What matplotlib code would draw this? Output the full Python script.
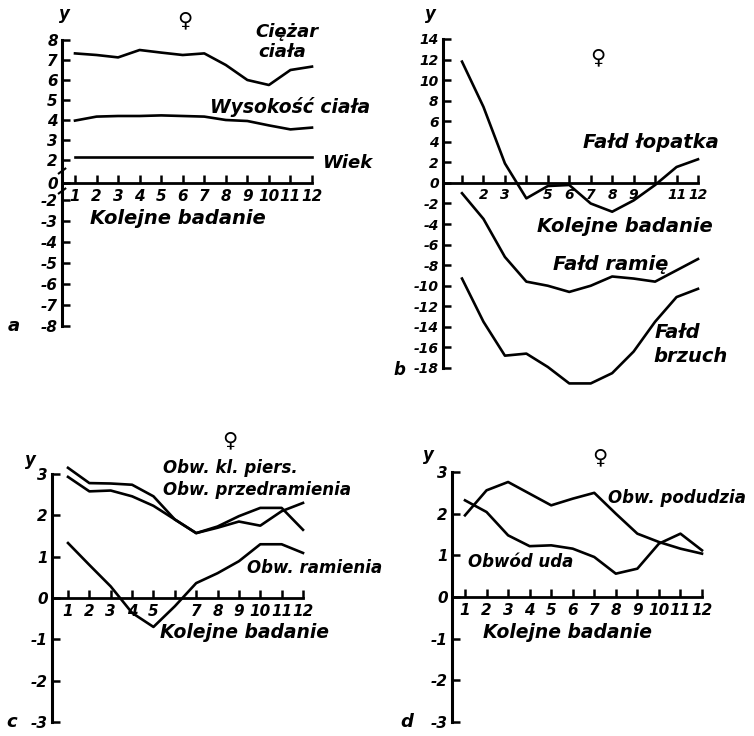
import matplotlib.pyplot as plt

plt.rcParams["font.family"] = ["DejaVu Sans"]
plt.rcParams["font.style"] = "italic"
plt.rcParams["font.weight"] = "bold"

W, H = 754, 736

# -----------------------------
# data
# -----------------------------
badanie = [1, 2, 3, 4, 5, 6, 7, 8, 9, 10, 11, 12]

# a
ciezar = [7.33, 7.25, 7.13, 7.5, 7.37, 7.25, 7.33, 6.75, 6.0, 5.75, 6.5, 6.67]
wysokosc = [3.97, 4.17, 4.2, 4.2, 4.23, 4.2, 4.17, 4.0, 3.95, 3.73, 3.53, 3.62]
wiek = [2.15, 2.15, 2.15, 2.15, 2.15, 2.15, 2.15, 2.15, 2.15, 2.15, 2.15, 2.15]
a_ticks = [8, 7, 6, 5, 4, 3, 2, 0.85, 0, -1.05, -2.1, -3.15, -4.2, -5.25, -6.3]
a_ticklabels = ["8", "7", "6", "5", "4", "3", "2", "0", "-2", "-3", "-4", "-5", "-6", "-7", "-8"]

# b
lopatka = [11.8, 7.4, 1.9, -1.5, -0.3, -0.2, -2.0, -2.8, -1.7, -0.2, 1.55, 2.3]
ramie = [-1.0, -3.5, -7.2, -9.6, -10.0, -10.6, -10.0, -9.1, -9.3, -9.6, -8.5, -7.4]
brzuch = [-9.3, -13.5, -16.8, -16.6, -17.9, -19.5, -19.5, -18.5, -16.4, -13.5, -11.1, -10.3]
b_xlabels = ["", "2", "3", "", "5", "6", "7", "8", "9", "", "11", "12"]

# c
kl_piers = [3.15, 2.78, 2.77, 2.74, 2.46, 1.9, 1.57, 1.73, 1.98, 2.18, 2.18, 1.65]
przedramie = [2.93, 2.58, 2.6, 2.46, 2.23, 1.9, 1.57, 1.7, 1.85, 1.75, 2.1, 2.3]
ramie_obw = [1.33, 0.8, 0.28, -0.36, -0.7, -0.2, 0.36, 0.6, 0.89, 1.3, 1.3, 1.09]
c_xlabels = ["1", "2", "3", "4", "5", "", "7", "8", "9", "10", "11", "12"]

# d
podudzie = [1.96, 2.56, 2.76, 2.48, 2.2, 2.36, 2.5, 2.0, 1.52, 1.32, 1.16, 1.04]
uda = [2.32, 2.04, 1.48, 1.22, 1.24, 1.16, 0.96, 0.56, 0.68, 1.28, 1.52, 1.12]

fig = plt.figure(figsize=(W / 100, H / 100), dpi=100)


def place(x1px, x12px, yA, yApx, yB, yBpx, xlim, ylim):
    # put an axes so that data x=1 / x=12 and yA / yB land on the given pixels
    sx = (x12px - x1px) / 11
    sy = (yBpx - yApx) / (yA - yB)
    left = x1px + (xlim[0] - 1) * sx
    right = x1px + (xlim[1] - 1) * sx
    top = yApx - (ylim[1] - yA) * sy
    bottom = yApx + (yA - ylim[0]) * sy
    ax = fig.add_axes([left / W, 1 - bottom / H, (right - left) / W, (bottom - top) / H])
    ax.set_xlim(xlim)
    ax.set_ylim(ylim)
    ax.patch.set_alpha(0)
    return ax


def style(ax, xaxis_y, ybounds, yticks, yticklabels, xlabels, fs):
    for s in ["top", "right"]:
        ax.spines[s].set_visible(False)
    ax.spines["left"].set_linewidth(2.2)
    ax.spines["left"].set_bounds(*ybounds)
    ax.spines["bottom"].set_position(("data", xaxis_y))
    ax.spines["bottom"].set_linewidth(2.0)
    ax.spines["bottom"].set_bounds(ax.get_xlim()[0], 12)
    ax.set_xticks(badanie)
    ax.set_xticklabels(xlabels)
    ax.set_yticks(yticks)
    ax.set_yticklabels(yticklabels)
    ax.tick_params(axis="x", direction="in", length=6, width=1.8, pad=4, labelsize=fs)
    ax.tick_params(axis="y", direction="in", length=6, width=1.8, pad=3, labelsize=fs)


def label(x, y, s, size=13, ha="left", va="center"):
    fig.text(x / W, 1 - y / H, s, fontsize=size, ha=ha, va=va,
             fontstyle="italic", fontweight="bold")


lw = 1.9
col = "black"

# -----------------------------
# a
# -----------------------------
ax = place(75, 312, 7, 60, 2, 160, (0.4, 12.3), (-6.5, 8.3))
ax.plot(badanie, ciezar, color=col, lw=lw)
ax.plot(badanie, wysokosc, color=col, lw=lw)
ax.plot(badanie, wiek, color=col, lw=lw)
style(ax, 0.85, (-6.3, 8), a_ticks, a_ticklabels, [str(i) for i in badanie], 11)
# axis break marks
for yb in [1.45, 0.45]:
    ax.plot([0.25, 0.55], [yb - 0.12, yb + 0.12], color=col, lw=1.5, clip_on=False)

label(64, 14, "y", 12, ha="center")
label(185, 20, "\u2640", 15, ha="center")
label(255, 32, "Ciężar")
label(258, 52, "ciała")
label(210, 107, "Wysokość ciała", 13.5)
label(322, 163, "Wiek")
label(90, 218, "Kolejne badanie", 14)
label(8, 326, "a", 13)

# -----------------------------
# b
# -----------------------------
ax = place(462, 698, 14, 39, -18, 368, (0.11, 12.3), (-19.9, 14.4))
ax.plot(badanie, lopatka, color=col, lw=lw)
ax.plot(badanie, ramie, color=col, lw=lw)
ax.plot(badanie, brzuch, color=col, lw=lw)
b_ticks = [14, 12, 10, 8, 6, 4, 2, 0, -2, -4, -6, -8, -10, -12, -14, -16, -18]
style(ax, 0, (-18, 14), b_ticks, [str(t) for t in b_ticks], b_xlabels, 10)

label(430, 14, "y", 12, ha="center")
label(598, 57, "\u2640", 15, ha="center")
label(583, 143, "Fałd łopatka", 14)
label(537, 227, "Kolejne badanie", 14)
label(553, 265, "Fałd ramię", 14)
label(655, 333, "Fałd", 14)
label(653, 356, "brzuch", 14)
label(393, 370, "b", 12)

# -----------------------------
# c
# -----------------------------
ax = place(68, 303, 3, 474, -3, 722, (0.25, 12.3), (-3.05, 3.35))
ax.plot(badanie, kl_piers, color=col, lw=lw)
ax.plot(badanie, przedramie, color=col, lw=lw)
ax.plot(badanie, ramie_obw, color=col, lw=lw)
c_ticks = [3, 2, 1, 0, -1, -2, -3]
style(ax, 0, (-3, 3), c_ticks, [str(t) for t in c_ticks], c_xlabels, 11)

label(30, 460, "y", 12, ha="center")
label(230, 440, "\u2640", 15, ha="center")
label(163, 468, "Obw. kl. piers.", 12)
label(163, 490, "Obw. przedramienia", 12)
label(247, 568, "Obw. ramienia", 12)
label(160, 633, "Kolejne badanie", 13.5)
label(6, 722, "c", 13)

# -----------------------------
# d
# -----------------------------
ax = place(465, 702, 3, 472, -3, 722, (0.4, 12.3), (-3.05, 3.35))
ax.plot(badanie, podudzie, color=col, lw=lw)
ax.plot(badanie, uda, color=col, lw=lw)
style(ax, 0, (-3, 3), c_ticks, [str(t) for t in c_ticks], [str(i) for i in badanie], 11)

label(428, 455, "y", 12, ha="center")
label(600, 457, "\u2640", 15, ha="center")
label(608, 498, "Obw. podudzia", 12)
label(468, 562, "Obwód uda", 12)
label(483, 633, "Kolejne badanie", 13.5)
label(400, 722, "d", 13)

fig.savefig("out.png", dpi=100)
